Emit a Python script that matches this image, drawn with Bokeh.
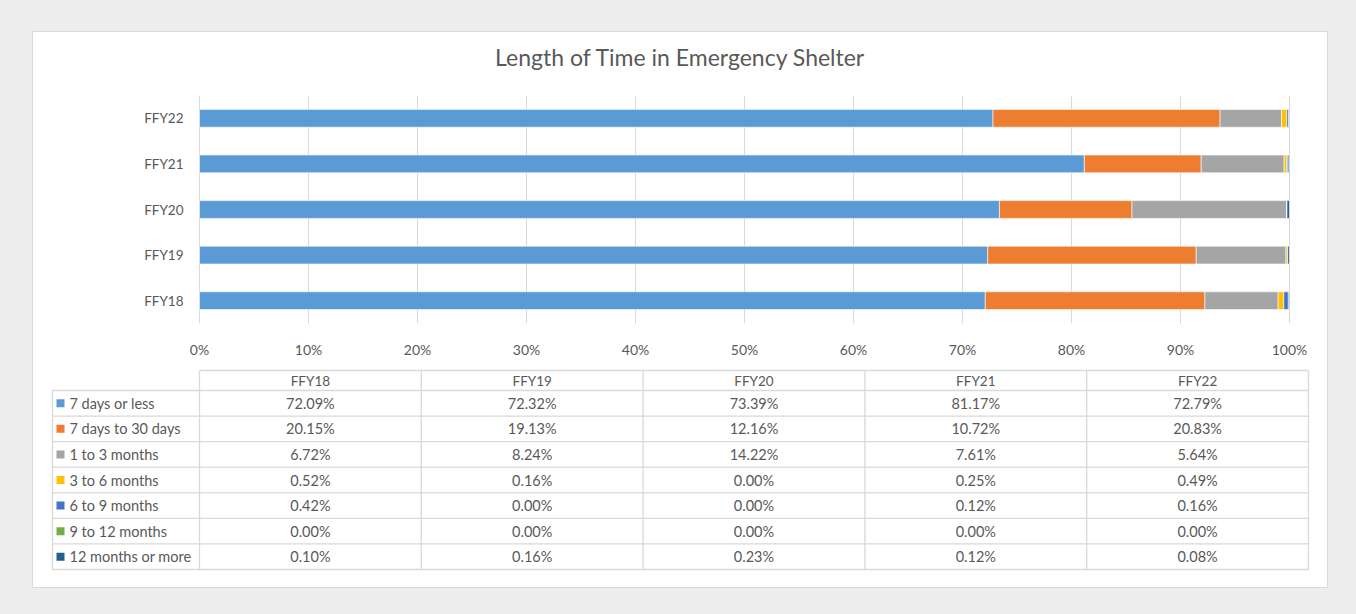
from bokeh.plotting import figure
from bokeh.models import (FactorRange, Range1d, NumeralTickFormatter, FixedTicker,
                          ColumnDataSource, Title)
from bokeh.layouts import column
from bokeh.embed import file_html
from bokeh.resources import INLINE
from bokeh.core.properties import value

# ---------------- data ----------------
years = ["FFY18", "FFY19", "FFY20", "FFY21", "FFY22"]
series = ["7 days or less", "7 days to 30 days", "1 to 3 months", "3 to 6 months",
          "6 to 9 months", "9 to 12 months", "12 months or more"]
s_7days = [72.09, 72.32, 73.39, 81.17, 72.79]
s_7to30 = [20.15, 19.13, 12.16, 10.72, 20.83]
s_1to3 = [6.72, 8.24, 14.22, 7.61, 5.64]
s_3to6 = [0.52, 0.16, 0.00, 0.25, 0.49]
s_6to9 = [0.42, 0.00, 0.00, 0.12, 0.16]
s_9to12 = [0.00, 0.00, 0.00, 0.00, 0.00]
s_12plus = [0.10, 0.16, 0.23, 0.12, 0.08]
x_ticks = [0.0, 0.1, 0.2, 0.3, 0.4, 0.5, 0.6, 0.7, 0.8, 0.9, 1.0]
title_text = "Length of Time in Emergency Shelter"

colors = ["#5B9BD5", "#ED7D31", "#A5A5A5", "#FFC000", "#4472C4", "#70AD47", "#255E91"]
values_all = [s_7days, s_7to30, s_1to3, s_3to6, s_6to9, s_9to12, s_12plus]

FONT = "Lato"
TXT = "#595959"
GRID = "#d9d9d9"

# ---------------- layout constants (pixels) ----------------
FIG_W = 1294
FRAME_L, FRAME_R = 17, 17                   # all frames share this horizontal extent
FRAME_W = FIG_W - FRAME_L - FRAME_R         # 1260
BAR_L_OFF = 149                             # 0% sits this far right of the frame's left edge
BAR_W = 1090                                # px from 0% to 100%
TABLE_L_OFF = 2                             # table's left edge from frame's left edge
LEG_W = 147                                 # legend column width
COL_W = (FRAME_W - TABLE_L_OFF - 2 - LEG_W) / len(years)   # year column width

# ---------------- title strip ----------------
pt = figure(width=FIG_W, height=44, x_axis_location=None, y_axis_location=None,
            output_backend="svg", toolbar_location=None,
            min_border_left=FRAME_L, min_border_right=FRAME_R,
            min_border_top=43, min_border_bottom=0,
            border_fill_color="white", background_fill_color="white",
            outline_line_color=None)
pt.xgrid.visible = False
pt.ygrid.visible = False
pt.title = Title(text=title_text, align="center", vertical_align="bottom",
                 standoff=10, text_font_size="23px",
                 text_font=FONT, text_color=TXT, text_font_style="normal")

# ---------------- chart ----------------
totals = [sum(v[i] for v in values_all) for i in range(len(years))]
keys = ["k%d" % j for j in range(len(series))]
data = {"year": years}
for k, vals in zip(keys, values_all):
    data[k] = [vals[i] / totals[i] for i in range(len(years))]
src = ColumnDataSource(data)

x_start = -BAR_L_OFF / BAR_W
x_end = x_start + FRAME_W / BAR_W
pa = figure(width=FIG_W, height=284, y_range=FactorRange(*years),
            x_range=Range1d(x_start, x_end), y_axis_location=None,
            output_backend="svg", toolbar_location=None,
            min_border_left=FRAME_L, min_border_right=FRAME_R,
            min_border_top=19, min_border_bottom=33,
            border_fill_color="white", background_fill_color="white",
            outline_line_color=None)
pa.hbar_stack(keys, y="year", height=0.39, color=colors, source=src,
              line_color="white", line_width=0.6)

# category labels, placed through the figure's scales
pa.text(x=[-16 / BAR_W] * len(years), y=years, text=years, text_align="right",
        text_baseline="middle", text_font=value(FONT), text_font_size="13.5px",
        text_color=TXT)

pa.xaxis.ticker = FixedTicker(ticks=x_ticks)
pa.xaxis.formatter = NumeralTickFormatter(format="0%")
pa.xgrid.ticker = FixedTicker(ticks=x_ticks)
pa.xgrid.grid_line_color = GRID
pa.ygrid.grid_line_color = None
pa.xaxis.axis_line_color = None
pa.xaxis.major_tick_line_color = None
pa.xaxis.minor_tick_line_color = None
pa.xaxis.major_label_text_font = FONT
pa.xaxis.major_label_text_font_size = "14px"
pa.xaxis.major_label_text_color = TXT
pa.xaxis.major_label_standoff = 11

# ---------------- data table ----------------
row_px = 25.57
hdr_h = 20 / row_px          # header row height (row units)
leg_w = LEG_W / COL_W        # legend column width (column units)
nrow = len(series)
ncol = len(years)

pb = figure(width=FIG_W, height=227,
            x_range=Range1d(-leg_w - TABLE_L_OFF / COL_W, ncol + 2 / COL_W),
            y_range=Range1d(nrow + 2 / row_px, -hdr_h - 2 / row_px),
            x_axis_location=None, y_axis_location=None,
            output_backend="svg", toolbar_location=None,
            min_border_left=FRAME_L, min_border_right=FRAME_R,
            min_border_top=8, min_border_bottom=16,
            border_fill_color="white", background_fill_color="white",
            outline_line_color=None)
pb.xgrid.visible = False
pb.ygrid.visible = False

x0s, x1s, y0s, y1s = [], [], [], []
x0s.append(0); x1s.append(ncol); y0s.append(-hdr_h); y1s.append(-hdr_h)
for r in range(nrow + 1):
    x0s.append(-leg_w); x1s.append(ncol); y0s.append(r); y1s.append(r)
x0s.append(-leg_w); x1s.append(-leg_w); y0s.append(0); y1s.append(nrow)
for c in range(ncol + 1):
    x0s.append(c); x1s.append(c); y0s.append(-hdr_h); y1s.append(nrow)
pb.segment(x0=x0s, y0=y0s, x1=x1s, y1=y1s, line_color=GRID, line_width=1.3)

# header
pb.text(x=[c + 0.5 for c in range(ncol)], y=[-hdr_h / 2] * ncol, text=years,
        text_align="center", text_baseline="middle", text_font=value(FONT),
        text_font_size="13.5px", text_color=TXT)

# values
vx, vy, vt = [], [], []
for r, vals in enumerate(values_all):
    for c in range(ncol):
        vx.append(c + 0.5); vy.append(r + 0.5); vt.append("%.2f%%" % vals[c])
pb.text(x=vx, y=vy, text=vt, text_align="center", text_baseline="middle",
        text_font=value(FONT), text_font_size="14.5px", text_color=TXT)

# legend keys
ry = [r + 0.5 for r in range(nrow)]
pb.scatter(x=[-leg_w + 8 / COL_W] * nrow, y=ry, marker="square", size=8,
           fill_color=colors, line_color=None)
pb.text(x=[-leg_w + 17 / COL_W] * nrow, y=ry, text=series, text_align="left",
        text_baseline="middle", text_font=value(FONT), text_font_size="14.5px",
        text_color=TXT)

root = column(pt, pa, pb, margin=(31, 0, 0, 32),
              styles={"border": "1px solid #d9d9d9", "background-color": "white"})

html = file_html(root, INLINE)
html = html.replace("<head>", "<head><style>html,body{background:#ededed;}</style>", 1)
open("out.html", "w").write(html)
